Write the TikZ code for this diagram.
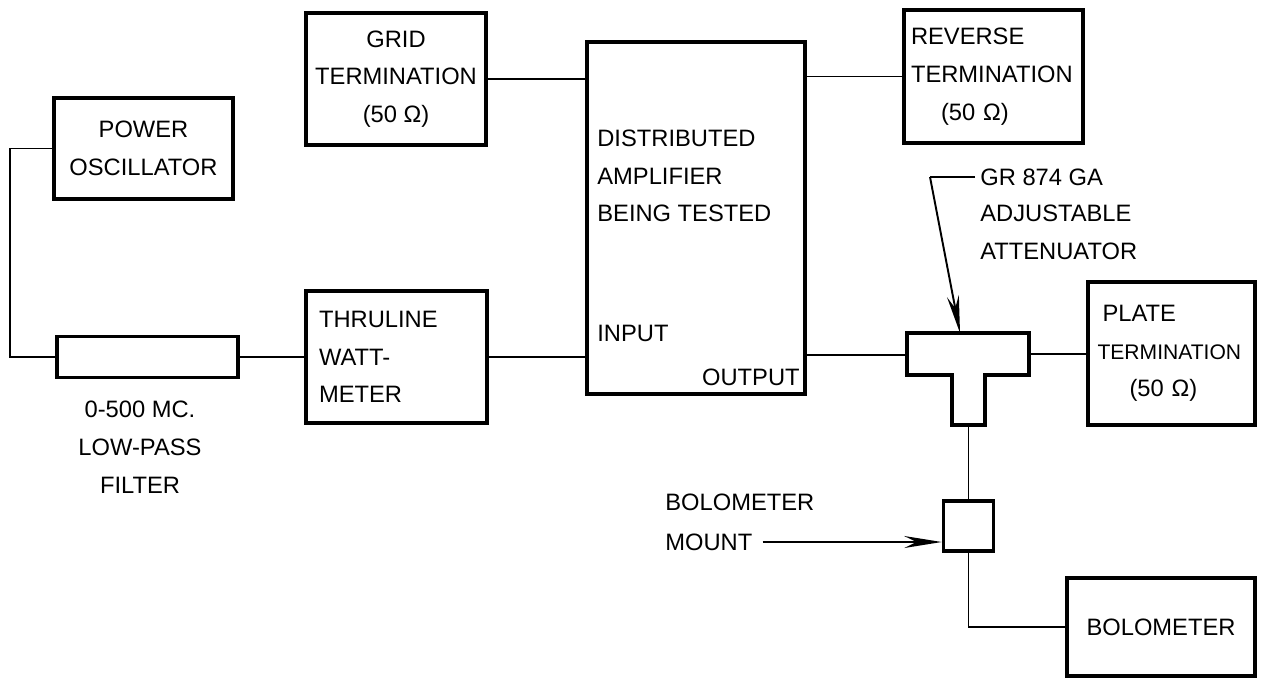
\documentclass[tikz,border=0pt]{standalone}
\usepackage{fontspec}
\setmainfont{Liberation Sans}
\usetikzlibrary{arrows.meta}

\begin{document}
\begin{tikzpicture}[
    x=0.02cm, y=-0.02cm,
    box/.style={draw, line width=2pt, inner sep=0pt, align=center},
    lbl/.style={inner sep=0pt, align=center},
    wire/.style={line width=1.1pt},
    font=\fontsize{13.5}{21.5}\selectfont,
    >={Stealth[length=0.75cm, width=0.24cm]}
  ]
  \useasboundingbox (0,0) rectangle (1263,677);

  % Source side
  \node[box, minimum width=3.58cm, minimum height=2.02cm] (osc) at (143.5,148.5) {POWER\\OSCILLATOR};
  \node[box, minimum width=3.62cm, minimum height=0.82cm] (filter) at (147.5,357) {};
  \node[lbl] (filtlbl) at (140,447) {0-500 MC.\\LOW-PASS\\FILTER};
  \node[box, minimum width=3.62cm, minimum height=2.64cm, text width=3.1cm, align=left] (thru) at (396.5,357) {THRULINE\\WATT-\\METER};
  \node[box, minimum width=3.6cm, minimum height=2.64cm] (grid) at (396,79) {GRID\\TERMINATION\\(50 Ω)};

  % Amplifier under test
  \node[box, minimum width=4.36cm, minimum height=7.04cm] (da) at (696,218) {};
  \node[lbl, anchor=west, align=left] (datxt) at (597,176) {DISTRIBUTED\\AMPLIFIER\\BEING TESTED};
  \node[lbl, anchor=west] (intxt) at (597,333) {INPUT};
  \node[lbl, anchor=east] (outtxt) at (800,377) {OUTPUT};

  % Load side
  \node[box, minimum width=3.58cm, minimum height=2.66cm, text width=3.3cm, align=left] (rev) at (993.5,76.5) {REVERSE\\TERMINATION\\\hspace*{0.6cm}(50 Ω)};
  \node[box, minimum width=3.34cm, minimum height=2.86cm, text width=2.96cm, align=left] (plate) at (1171.5,353.5) {\hspace*{0.1cm}PLATE\\{\fontsize{12}{21.5}\selectfont TERMINATION}\\\hspace*{0.64cm}(50 Ω)};
  \draw[line width=2pt] (907,333) -- (1029,333) -- (1029,375) -- (985,375) -- (985,425)
    -- (952,425) -- (952,375) -- (907,375) -- cycle;
  \coordinate (attin) at (907,355);
  \coordinate (attout) at (1029,354);
  \coordinate (atttop) at (960,333);
  \coordinate (attbot) at (968.5,425);
  \node[box, minimum size=1cm] (mount) at (968.5,526) {};
  \node[box, minimum width=3.76cm, minimum height=1.96cm] (bolo) at (1161,627) {BOLOMETER};

  % Annotations
  \node[lbl, anchor=west] (grtxt) at (980,177) {GR 874 GA};
  \node[lbl, anchor=north west, align=left] (atttxt) at (980,205) {ADJUSTABLE\\ATTENUATOR};
  \coordinate (grknee) at (930,177);
  \node[lbl, anchor=west] (bolotxt) at (665,502) {BOLOMETER};
  \node[lbl, anchor=west] (mounttxt) at (665,542) {MOUNT};

  % Cables
  \draw[wire] (osc.west) -- ++(-42,0) |- (filter.west);
  \draw[wire] (filter.east) -- (thru.west);
  \draw[wire] (thru.east) -- (thru.east -| da.west);
  \draw[wire] (grid.east) -- (grid.east -| da.west);
  \draw[wire] (rev.west -| da.east) -- (rev.west);
  \draw[wire] (attin -| da.east) -- (attin);
  \draw[wire] (attout) -- (attout -| plate.west);
  \draw[wire] (attbot) -- (mount.north);
  \draw[wire] (mount.south) |- (bolo.west);

  % Pointers
  \draw[wire, shorten <=0.1cm] (grtxt.west) -- (grknee);
  \draw[wire, ->] (grknee) -- (atttop);
  \draw[wire, ->, shorten <=0.2cm] (mounttxt.east) -- (mounttxt.east -| mount.west);
\end{tikzpicture}
\end{document}
